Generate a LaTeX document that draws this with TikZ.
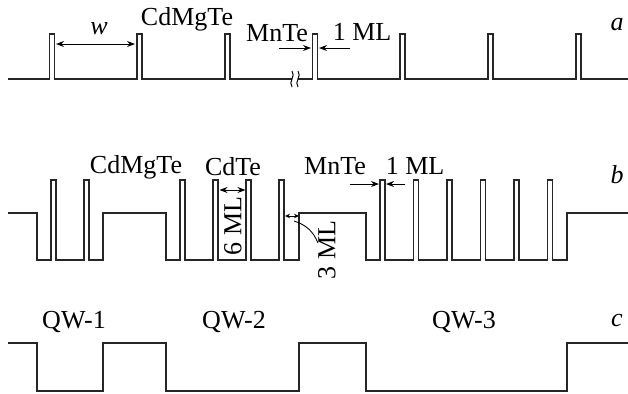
\documentclass[tikz,border=0pt]{standalone}
\usepackage{fontspec}
\setmainfont{Liberation Serif}
\usetikzlibrary{arrows.meta}

\tikzset{
	perfil/.style={line width=0.55pt, line join=miter, color=black!85},
	rotulo/.style={inner sep=0pt, font=\fontsize{10.4}{12}\selectfont},
	cota/.style={-{Stealth[length=3.2pt,width=2.4pt]}, line width=0.4pt},
	cotadupla/.style={{Stealth[length=3.2pt,width=2.4pt]}-{Stealth[length=3.2pt,width=2.4pt]}, line width=0.4pt},
	cotamini/.style={{Stealth[length=2pt,width=1.8pt]}-{Stealth[length=2pt,width=1.8pt]}, line width=0.35pt}
}

\begin{document}
\begin{tikzpicture}[x=0.4pt, y=-0.4pt]
\useasboundingbox (0,0) rectangle (628,394);

% Perfil a
	\draw[perfil] (8,79)
		\foreach \x in {49.5, 137, 225}
			{ -- (\x,79) -- (\x,34) -- (\x+5,34) -- (\x+5,79) }
		-- (292,79);
	\draw[perfil] (298,79)
		\foreach \x in {312.5, 400, 488, 576}
			{ -- (\x,79) -- (\x,34) -- (\x+5,34) -- (\x+5,79) }
		-- (628,79);
	\foreach \x in {292, 298}
		\draw[line width=0.4pt] (\x,71) to[out=-60,in=60] (\x,79) to[out=-120,in=120] (\x,87);

	\node[rotulo] (wA) at (99,29) {\textit{w}};
	\node[rotulo] (cdmgteA) at (187,19) {CdMgTe};
	\node[rotulo] (mnteA) at (277,33) {MnTe};
	\node[rotulo] (mlA) at (362,32) {1 ML};
	\node[rotulo] (letraA) at (617,25) {\textit{a}};

	\coordinate (wI) at (56,44);
	\coordinate (wF) at (135,44);
	\draw[cotadupla] (wI) -- (wF);
	\coordinate (mnI) at (279,48);
	\coordinate (mnF) at (311,48);
	\draw[cota] (mnI) -- (mnF);
	\coordinate (mlI) at (350,48);
	\coordinate (mlF) at (319,48);
	\draw[cota] (mlI) -- (mlF);

% Perfil b
	\draw[perfil] (8,213) -- (37,213) -- (37,260)
		\foreach \x in {51, 84}
			{ -- (\x,260) -- (\x,180) -- (\x+5,180) -- (\x+5,260) }
		-- (103,260) -- (103,213) -- (166,213) -- (166,260)
		\foreach \x in {180, 213, 246, 279}
			{ -- (\x,260) -- (\x,180) -- (\x+5,180) -- (\x+5,260) }
		-- (299,260) -- (299,213) -- (366,213) -- (366,260)
		\foreach \x in {380, 413.5, 447, 480.5, 514, 547.5}
			{ -- (\x,260) -- (\x,180) -- (\x+5,180) -- (\x+5,260) }
		-- (567,260) -- (567,213) -- (628,213);

	\node[rotulo] (cdmgteB) at (136,167) {CdMgTe};
	\node[rotulo] (cdteB) at (233,167) {CdTe};
	\node[rotulo] (mnteB) at (335,166) {MnTe};
	\node[rotulo] (mlB) at (415,166) {1 ML};
	\node[rotulo] (letraB) at (617,175) {\textit{b}};
	\node[rotulo, rotate=90] (seisml) at (233,226) {6 ML};
	\node[rotulo, rotate=90] (tresml) at (327,250) {3 ML};

	\coordinate (mnBI) at (350,184);
	\coordinate (mnBF) at (379,184);
	\draw[cota] (mnBI) -- (mnBF);
	\coordinate (mlBI) at (405,184);
	\coordinate (mlBF) at (386,184);
	\draw[cota] (mlBI) -- (mlBF);
	\coordinate (seisI) at (219.5,190);
	\coordinate (seisF) at (245.5,190);
	\draw[cotadupla] (seisI) -- (seisF);
	\coordinate (tresI) at (285,216);
	\coordinate (tresF) at (299,216);
	\draw[cotamini] (tresI) -- (tresF);
	\coordinate (guiaI) at (294,221);
	\coordinate (guiaF) at (318,243);
	\draw[line width=0.35pt] (guiaI) to[bend left=25] (guiaF);

% Perfil c
	\draw[perfil] (8,343) -- (37,343) -- (37,391) -- (103,391) -- (103,343)
		-- (166,343) -- (166,391) -- (299,391) -- (299,343)
		-- (366,343) -- (366,391) -- (567,391) -- (567,343) -- (628,343);

	\node[rotulo] (qw1) at (74,322) {QW-1};
	\node[rotulo] (qw2) at (234,322) {QW-2};
	\node[rotulo] (qw3) at (464,322) {QW-3};
	\node[rotulo] (letraC) at (617,320) {\textit{c}};
\end{tikzpicture}
\end{document}
